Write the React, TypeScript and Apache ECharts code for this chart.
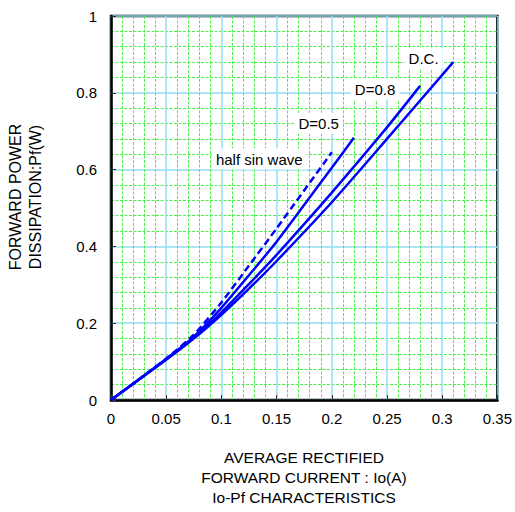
import React, { useEffect, useRef } from "react";
import * as echarts from "echarts";

const ioDC = [0, 0.05, 0.075, 0.1, 0.125, 0.15, 0.2, 0.25, 0.31];
const pfDC = [0, 0.105, 0.16, 0.222, 0.29, 0.362, 0.515, 0.68, 0.88];
const ioD08 = [0, 0.05, 0.075, 0.1, 0.125, 0.15, 0.2, 0.25, 0.28];
const pfD08 = [0, 0.106, 0.162, 0.228, 0.302, 0.378, 0.54, 0.71, 0.818];
const ioD05 = [0, 0.05, 0.075, 0.1, 0.125, 0.15, 0.2, 0.22];
const pfD05 = [0, 0.107, 0.165, 0.24, 0.325, 0.412, 0.605, 0.683];
const ioHalfSin = [0, 0.05, 0.075, 0.1, 0.125, 0.15, 0.2];
const pfHalfSin = [0, 0.108, 0.17, 0.254, 0.35, 0.447, 0.645];

const labelTexts = ["D.C.", "D=0.8", "D=0.5", "half sin wave"];
const labelIo = [0.2831, 0.2392, 0.1881, 0.1343];
const labelPf = [0.8898, 0.809, 0.7206, 0.6276];

const xTitle = ["AVERAGE RECTIFIED", "FORWARD CURRENT : Io(A)", "Io-Pf CHARACTERISTICS"];
const yTitle = ["FORWARD POWER", "DISSIPATION:Pf(W)"];

const FONT = "'Liberation Sans', Arial, sans-serif";

function pairs(xs: number[], ys: number[]) {
  return xs.map((x, i) => [x, ys[i]]);
}

function mark(i: number) {
  return {
    silent: true,
    symbol: "rect",
    symbolSize: 0,
    data: [
      {
        coord: [labelIo[i], labelPf[i]],
        label: {
          show: true,
          position: "inside",
          formatter: labelTexts[i],
          color: "#000",
          fontSize: 15,
          fontFamily: FONT,
          backgroundColor: "#fff",
          padding: [3, 4],
        },
      },
    ],
  };
}

export default function App() {
  const ref = useRef<HTMLDivElement>(null);
  useEffect(() => {
    const chart = echarts.init(ref.current!, null, { renderer: "svg" });
    const lineBase = {
      type: "line",
      showSymbol: false,
      smooth: 0.2,
      z: 3,
    };
    chart.setOption({
      animation: false,
      backgroundColor: "#fff",
      grid: {
        left: 111,
        right: 17,
        top: 16,
        bottom: 112,
        show: true,
        backgroundColor: "#fff",
        borderColor: "#000",
        borderWidth: 2.5,
      },
      xAxis: {
        type: "value",
        min: 0,
        max: 0.35,
        interval: 0.05,
        axisLine: { show: true, onZero: false, lineStyle: { color: "#000", width: 2.5 } },
        axisTick: { show: true, inside: true, length: 5, lineStyle: { color: "#333", width: 1 } },
        axisLabel: { color: "#000", fontSize: 15, fontFamily: FONT, margin: 11 },
        splitLine: { show: true, lineStyle: { color: "#95def5", width: 1.5 } },
        minorTick: { show: false, splitNumber: 5 },
        minorSplitLine: { show: true, lineStyle: { color: "#4cee4c", width: 1, type: [3, 1.5] } },
      },
      yAxis: {
        type: "value",
        min: 0,
        max: 1,
        interval: 0.2,
        axisLine: { show: true, onZero: false, lineStyle: { color: "#000", width: 2.5 } },
        axisTick: { show: true, inside: true, length: 5, lineStyle: { color: "#333", width: 1 } },
        axisLabel: { color: "#000", fontSize: 15, fontFamily: FONT, margin: 14 },
        splitLine: { show: true, lineStyle: { color: "#95def5", width: 1.5 } },
        minorTick: { show: false, splitNumber: 5 },
        minorSplitLine: { show: true, lineStyle: { color: "#4cee4c", width: 1, type: [3, 1.5] } },
      },
      graphic: [
        {
          type: "text",
          x: 304,
          y: 447,
          style: {
            text: xTitle.join("\n"),
            fill: "#000",
            fontSize: 15.5,
            fontFamily: FONT,
            lineHeight: 20,
            align: "center",
            verticalAlign: "top",
          },
        },
        {
          type: "text",
          x: 25,
          y: 197,
          rotation: Math.PI / 2,
          style: {
            text: yTitle.join("\n"),
            fill: "#000",
            fontSize: 16,
            fontFamily: FONT,
            lineHeight: 20,
            align: "center",
            verticalAlign: "middle",
          },
        },
      ],
      series: [
        {
          ...lineBase,
          name: "D.C.",
          data: pairs(ioDC, pfDC),
          lineStyle: { color: "#0000ff", width: 2.5 },
          markPoint: mark(0),
        },
        {
          ...lineBase,
          name: "D=0.8",
          data: pairs(ioD08, pfD08),
          lineStyle: { color: "#0000ff", width: 2.5 },
          markPoint: mark(1),
        },
        {
          ...lineBase,
          name: "D=0.5",
          data: pairs(ioD05, pfD05),
          lineStyle: { color: "#0000ff", width: 2.5 },
          markPoint: mark(2),
        },
        {
          ...lineBase,
          name: "half sin wave",
          data: pairs(ioHalfSin, pfHalfSin),
          lineStyle: { color: "#0000ff", width: 2.5, type: [7, 4] },
          markPoint: mark(3),
        },
      ],
    });
    return () => chart.dispose();
  }, []);
  return <div ref={ref} style={{ width: 515, height: 512, position: "absolute", left: 0, top: 0 }} />;
}
